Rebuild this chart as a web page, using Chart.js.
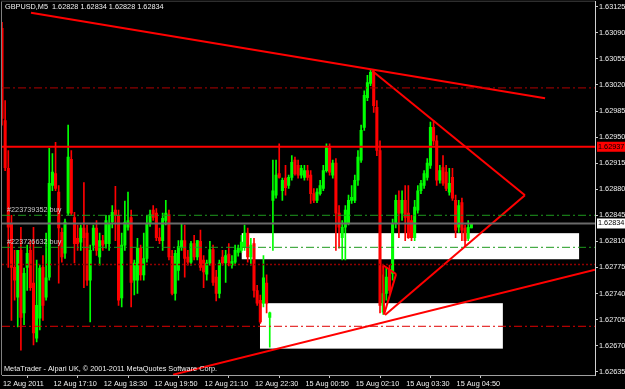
<!DOCTYPE html>
<html><head><meta charset="utf-8">
<script src="https://cdn.jsdelivr.net/npm/chart.js@4"></script>
<style>html,body{margin:0;padding:0;background:#000;overflow:hidden}#wrap{width:625px;height:389px}</style>
</head><body><div id="wrap"><canvas id="c" width="625" height="389"></canvas></div>
<script>
// ---- data (GBPUSD M5) ----
const opens = [1.63096,1.62972,1.62908,1.62834,1.62775,1.62735,1.62798,1.62714,1.62775,1.62798,
1.62754,1.62680,1.62707,1.62775,1.62735,1.62762,1.62885,1.62901,1.62876,1.62822,
1.62794,1.62848,1.62920,1.62842,1.62814,1.62809,1.62828,1.62821,1.62758,1.62805,
1.62828,1.62789,1.62811,1.62807,1.62807,1.62836,1.62852,1.62845,1.62734,1.62805,
1.62829,1.62842,1.62758,1.62758,1.62801,1.62765,1.62787,1.62834,1.62852,1.62848,
1.62815,1.62811,1.62838,1.62846,1.62790,1.62740,1.62771,1.62802,1.62811,1.62789,
1.62782,1.62807,1.62789,1.62810,1.62785,1.62766,1.62781,1.62799,1.62762,1.62740,
1.62789,1.62781,1.62793,1.62778,1.62782,1.62795,1.62798,1.62802,1.62821,1.62789,
1.62807,1.62744,1.62731,1.62727,1.62754,1.62708,1.62865,1.62872,1.62901,1.62878,
1.62895,1.62885,1.62896,1.62919,1.62912,1.62899,1.62896,1.62905,1.62899,1.62874,
1.62865,1.62874,1.62881,1.62905,1.62935,1.62899,1.62915,1.62848,1.62815,1.62829,
1.62834,1.62865,1.62865,1.62892,1.62919,1.62963,1.63003,1.63022,1.63037,1.62990,
1.62932,1.62715,1.62740,1.62771,1.62767,1.62834,1.62865,1.62848,1.62865,1.62848,
1.62838,1.62815,1.62852,1.62878,1.62885,1.62896,1.62912,1.62963,1.62945,1.62892,
1.62909,1.62903,1.62876,1.62896,1.62865,1.62829,1.62862,1.62828,1.62814,1.62828];
const highs = [1.63104,1.62999,1.62932,1.62845,1.62798,1.62798,1.62829,1.62774,1.62805,1.62811,
1.62829,1.62785,1.62778,1.62791,1.62821,1.62935,1.62928,1.62943,1.62885,1.62828,
1.62840,1.62966,1.62932,1.62849,1.62832,1.62832,1.62889,1.62832,1.62805,1.62832,
1.62838,1.62821,1.62818,1.62845,1.62845,1.62858,1.62884,1.62852,1.62821,1.62864,
1.62876,1.62852,1.62785,1.62814,1.62805,1.62821,1.62845,1.62852,1.62858,1.62854,
1.62828,1.62848,1.62865,1.62852,1.62798,1.62798,1.62811,1.62834,1.62832,1.62798,
1.62810,1.62818,1.62811,1.62825,1.62791,1.62785,1.62810,1.62805,1.62771,1.62785,
1.62798,1.62798,1.62807,1.62791,1.62805,1.62805,1.62818,1.62832,1.62828,1.62814,
1.62814,1.62751,1.62738,1.62791,1.62765,1.62715,1.62919,1.62919,1.62941,1.62895,
1.62912,1.62899,1.62925,1.62923,1.62919,1.62912,1.62912,1.62912,1.62905,1.62881,
1.62881,1.62892,1.62912,1.62941,1.62941,1.62919,1.62921,1.62858,1.62838,1.62858,
1.62872,1.62885,1.62899,1.62932,1.62966,1.63012,1.63033,1.63041,1.63041,1.62999,
1.62945,1.62765,1.62774,1.62778,1.62840,1.62872,1.62878,1.62878,1.62885,1.62885,
1.62845,1.62865,1.62885,1.62892,1.62905,1.62921,1.62970,1.62972,1.62952,1.62912,
1.62925,1.62912,1.62908,1.62908,1.62872,1.62865,1.62868,1.62832,1.62838,1.62834];
const lows = [1.62966,1.62905,1.62775,1.62704,1.62731,1.62695,1.62664,1.62698,1.62744,1.62744,
1.62671,1.62675,1.62691,1.62704,1.62731,1.62758,1.62878,1.62878,1.62754,1.62782,
1.62787,1.62845,1.62845,1.62781,1.62798,1.62798,1.62748,1.62751,1.62702,1.62798,
1.62791,1.62778,1.62798,1.62801,1.62798,1.62828,1.62811,1.62724,1.62722,1.62798,
1.62825,1.62722,1.62738,1.62740,1.62758,1.62758,1.62782,1.62830,1.62838,1.62811,
1.62807,1.62798,1.62832,1.62785,1.62738,1.62731,1.62758,1.62798,1.62762,1.62778,
1.62778,1.62785,1.62785,1.62771,1.62748,1.62758,1.62778,1.62751,1.62730,1.62734,
1.62778,1.62755,1.62777,1.62774,1.62778,1.62790,1.62795,1.62798,1.62782,1.62778,
1.62735,1.62724,1.62700,1.62722,1.62714,1.62668,1.62798,1.62868,1.62895,1.62865,
1.62872,1.62881,1.62892,1.62899,1.62895,1.62895,1.62892,1.62892,1.62861,1.62862,
1.62862,1.62872,1.62878,1.62903,1.62899,1.62895,1.62798,1.62801,1.62785,1.62785,
1.62832,1.62861,1.62862,1.62885,1.62916,1.62959,1.62999,1.63019,1.62983,1.62925,
1.62714,1.62712,1.62731,1.62740,1.62758,1.62828,1.62815,1.62838,1.62811,1.62814,
1.62811,1.62811,1.62848,1.62874,1.62881,1.62892,1.62908,1.62939,1.62885,1.62888,
1.62885,1.62878,1.62872,1.62865,1.62815,1.62822,1.62811,1.62802,1.62811,1.62828];
const closes = [1.62975,1.62909,1.62829,1.62775,1.62758,1.62798,1.62708,1.62767,1.62794,1.62748,
1.62687,1.62724,1.62774,1.62724,1.62761,1.62888,1.62903,1.62881,1.62828,1.62789,
1.62836,1.62923,1.62848,1.62807,1.62807,1.62828,1.62815,1.62758,1.62798,1.62828,
1.62798,1.62811,1.62805,1.62838,1.62834,1.62849,1.62845,1.62731,1.62805,1.62836,
1.62838,1.62755,1.62781,1.62801,1.62765,1.62787,1.62834,1.62846,1.62842,1.62815,
1.62811,1.62841,1.62848,1.62789,1.62740,1.62794,1.62803,1.62811,1.62787,1.62782,
1.62807,1.62789,1.62811,1.62775,1.62769,1.62781,1.62799,1.62755,1.62740,1.62781,
1.62781,1.62791,1.62781,1.62783,1.62798,1.62801,1.62809,1.62821,1.62789,1.62805,
1.62744,1.62727,1.62702,1.62761,1.62727,1.62714,1.62878,1.62899,1.62896,1.62892,
1.62882,1.62896,1.62916,1.62901,1.62899,1.62908,1.62905,1.62896,1.62874,1.62865,
1.62876,1.62885,1.62905,1.62936,1.62903,1.62915,1.62848,1.62829,1.62829,1.62852,
1.62865,1.62869,1.62892,1.62923,1.62959,1.63006,1.63023,1.63037,1.62992,1.62932,
1.62724,1.62740,1.62762,1.62744,1.62834,1.62865,1.62848,1.62865,1.62842,1.62815,
1.62815,1.62856,1.62878,1.62888,1.62901,1.62915,1.62963,1.62945,1.62892,1.62905,
1.62888,1.62881,1.62888,1.62868,1.62825,1.62858,1.62825,1.62811,1.62829,1.62834];

const timeTickBars = [0,16,32,48,64,80,96,112,128,144];
const timeLabels = ["12 Aug 2011","12 Aug 17:10","12 Aug 18:30","12 Aug 19:50","12 Aug 21:10",
  "12 Aug 22:30","15 Aug 00:50","15 Aug 02:10","15 Aug 03:30","15 Aug 04:50"];
const priceTicks = [1.62635,1.62670,1.62705,1.62740,1.62775,1.62810,1.62845,1.62880,
  1.62915,1.62950,1.62985,1.63020,1.63055,1.63090,1.63125];
const levelPrices = [1.63016,1.62937,1.62845,1.62834,1.62802,1.62779,1.62696];
const trendFrom = [[9.2,1.63117],[117.5,1.63039],[166.0,1.62872],[54.3,1.62631],[121.0,1.62778],[125.1,1.62766],[121.3,1.62712]];
const trendTo   = [[172.4,1.63002],[166.0,1.62872],[121.6,1.62711],[188.25,1.62772],[125.1,1.62766],[121.3,1.62712],[121.0,1.62778]];
const zoneFrom = [[76.1,1.62821],[81.9,1.62727]];
const zoneTo   = [[183.2,1.62786],[159.0,1.62666]];
const markerPrices = [1.62937,1.62834];
const orderLabels = ["#223739352 buy","#223726632 buy"];
const orderPrices = [1.62845,1.62802];
const titleText = "GBPUSD,M5  1.62828 1.62834 1.62828 1.62834";
const creditText = "MetaTrader - Alpari UK, \u00a9 2001-2011 MetaQuotes Software Corp.";

// ---- styles ----
const FONT = "Liberation Sans, Arial, sans-serif";
const FS = 7.3;
const BULL = '#00ff00', BEAR = '#ff0000';
const levelStyles = [
  {c:'#b00000', w:1, d:[8,3,2,3]},
  {c:'#ff0000', w:2, d:[]},
  {c:'#1e9a1e', w:1, d:[8,3,2,3]},
  {c:'#6a6a6a', w:2, d:[]},
  {c:'#1e9a1e', w:1, d:[8,3,2,3]},
  {c:'#900000', w:1.5, d:[2,2]},
  {c:'#e00000', w:1, d:[8,3,2,3]}
];
const markerStyles = [{bg:'#ff0000', fg:'#000000'},{bg:'#ffffff', fg:'#000000'}];

const XMIN = 0, XMAX = 188.25;
const idx = opens.map((_, i) => i);
const col = idx.map(i => closes[i] >= opens[i] ? BULL : BEAR);

const datasets = [];
levelPrices.forEach((p, k) => datasets.push({
  type:'line', data:[{x:XMIN,y:p},{x:XMAX,y:p}], borderColor:levelStyles[k].c,
  borderWidth:levelStyles[k].w, borderDash:levelStyles[k].d, pointRadius:0, fill:false, order:0
}));
trendFrom.forEach((a, k) => datasets.push({
  type:'line', data:[{x:a[0],y:a[1]},{x:trendTo[k][0],y:trendTo[k][1]}], borderColor:'#ff0000',
  borderWidth:2, pointRadius:0, fill:false, order:0
}));
datasets.push({type:'bar', data: idx.map(i => ({x:i, y:[opens[i], closes[i]]})), backgroundColor:col,
  borderWidth:0, barThickness:2.4, minBarLength:1, grouped:false, order:1});
datasets.push({type:'bar', data: idx.map(i => ({x:i, y:[lows[i], highs[i]]})), backgroundColor:col,
  borderWidth:0, barThickness:1, grouped:false, order:2});

const overlay = {
  id:'overlay',
  beforeDraw(chart){ const c=chart.ctx; c.save(); c.fillStyle='#000'; c.fillRect(0,0,chart.width,chart.height); c.restore(); },
  beforeDatasetsDraw(chart){
    const c=chart.ctx, xs=chart.scales.x, ys=chart.scales.y, a=chart.chartArea;
    c.save(); c.beginPath(); c.rect(a.left,a.top,a.right-a.left,a.bottom-a.top); c.clip();
    c.fillStyle='#ffffff';
    zoneFrom.forEach((f,k)=>{ const t=zoneTo[k];
      const x1=xs.getPixelForValue(f[0]), x2=xs.getPixelForValue(t[0]);
      const y1=ys.getPixelForValue(f[1]), y2=ys.getPixelForValue(t[1]);
      c.fillRect(x1,y1,x2-x1,y2-y1); });
    c.restore();
  },
  afterDraw(chart){
    const c=chart.ctx, ys=chart.scales.y, a=chart.chartArea;
    c.save();
    c.strokeStyle='#808080'; c.lineWidth=1; c.setLineDash([1,1]);
    c.beginPath(); c.moveTo(a.left-0.5,a.top-0.5); c.lineTo(a.right,a.top-0.5); c.stroke();
    c.setLineDash([]);
    c.beginPath(); c.moveTo(a.left-0.5,a.top); c.lineTo(a.left-0.5,a.bottom); c.stroke();
    c.font = FS+'px '+FONT; c.textBaseline='middle'; c.textAlign='left';
    c.fillStyle='#f0f0f0';
    c.fillText(titleText, 5, 7);
    c.fillText(creditText, 4, 369);
    c.fillStyle='#c8c8c8';
    orderLabels.forEach((t,k)=>{ c.fillText(t, a.left+5, ys.getPixelForValue(orderPrices[k])-5); });
    markerPrices.forEach((p,k)=>{
      const y=ys.getPixelForValue(p);
      c.fillStyle=markerStyles[k].bg; c.fillRect(a.right+2, y-5, 30, 10);
      c.fillStyle=markerStyles[k].fg; c.fillText(p.toFixed(5), a.right+3, y);
    });
    c.restore();
  }
};

new Chart(document.getElementById('c'), {
  type:'bar',
  data:{datasets},
  plugins:[overlay],
  options:{
    responsive:false, animation:false, events:[],
    layout:{padding:{left:2, top:1, right:0, bottom:0}},
    plugins:{legend:{display:false}, tooltip:{enabled:false}},
    scales:{
      x:{type:'linear', min:XMIN, max:XMAX, offset:false,
        afterFit:s=>{s.height=14;},
        afterBuildTicks:s=>{s.ticks=timeTickBars.map(v=>({value:v}));},
        grid:{display:true, drawOnChartArea:false, drawTicks:true, tickLength:3, color:'#c8c8c8'},
        border:{display:true, color:'#a0a0a0', dash:[1,1]},
        ticks:{autoSkip:false, maxRotation:0, minRotation:0, align:'start', labelOffset:1, padding:2,
          color:'#f0f0f0', font:{family:FONT, size:FS, lineHeight:1.0}, callback:(v,i)=>timeLabels[i]}
      },
      y:{type:'linear', position:'right', min:1.626306, max:1.631317,
        afterFit:s=>{s.width=30;},
        afterBuildTicks:s=>{s.ticks=priceTicks.map(v=>({value:v}));},
        grid:{display:true, drawOnChartArea:false, tickLength:3, color:'#c8c8c8'},
        border:{display:true, color:'#d0d0d0'},
        ticks:{padding:1, color:'#f0f0f0', font:{family:FONT, size:FS, lineHeight:0.2}, callback:v=>Number(v).toFixed(5)}
      }
    }
  }
});
</script></body></html>
